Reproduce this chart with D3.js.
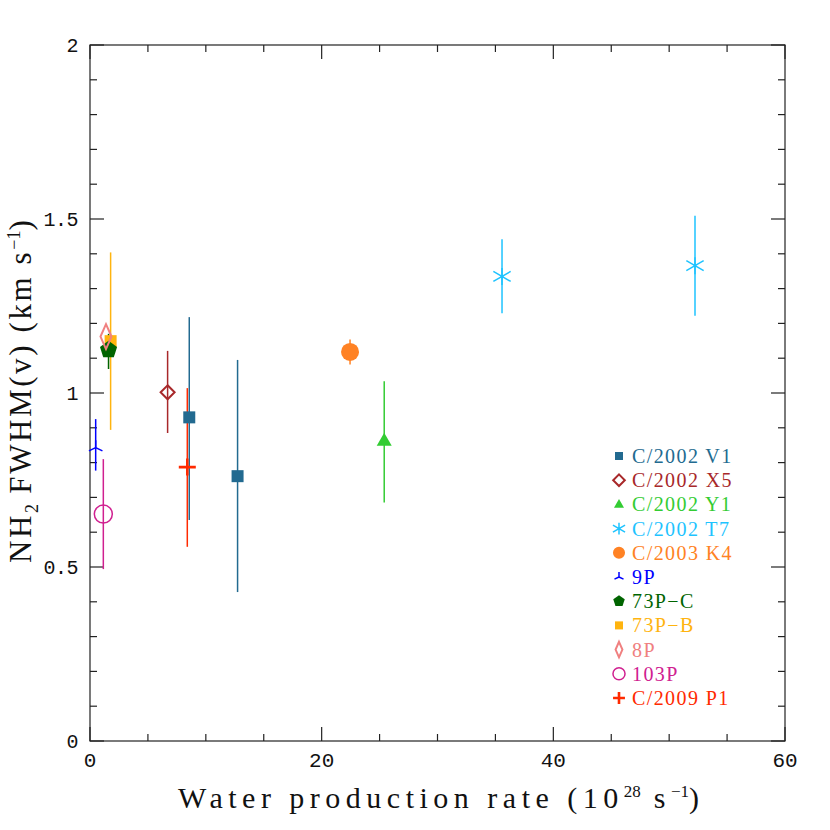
<!DOCTYPE html>
<html>
<head>
<meta charset="utf-8">
<script src="https://cdn.jsdelivr.net/npm/d3@7"></script>
<style>
  body { margin: 0; background: #fff; }
  svg { display: block; }
</style>
</head>
<body>
<svg width="830" height="830"></svg>
<script>
// one entry per measured point
const comet   = ["C/2002 V1", "C/2002 V1", "C/2002 X5", "C/2002 Y1", "C/2002 T7", "C/2002 T7",
                 "C/2003 K4", "9P", "73P-B", "73P-C", "8P", "103P", "C/2009 P1"];
const qH2O    = [8.57, 12.74, 6.7, 25.4, 35.57, 52.23, 22.45, 0.49, 1.78, 1.6, 1.38, 1.15, 8.4];
const fwhm    = [0.93, 0.761, 1.002, 0.863, 1.335, 1.366, 1.118, 0.843, 1.149, 1.124, 1.162, 0.652, 0.787];
const fwhmLo  = [0.635, 0.428, 0.885, 0.685, 1.229, 1.222, 1.082, 0.777, 0.894, 1.069, 1.162, 0.494, 0.558];
const fwhmHi  = [1.218, 1.095, 1.121, 1.034, 1.442, 1.509, 1.154, 0.925, 1.404, 1.17, 1.162, 0.81, 1.014];

// legend
const legendNames   = ["C/2002 V1", "C/2002 X5", "C/2002 Y1", "C/2002 T7", "C/2003 K4", "9P",
                       "73P-C", "73P-B", "8P", "103P", "C/2009 P1"];
const legendColors  = ["#226a90", "#a8282a", "#33cc33", "#1ec3ff", "#ff8224", "#0000ff",
                       "#006400", "#ffb40f", "#f08080", "#d02090", "#ff2a00"];
const legendSymbols = ["square", "diamond", "triangle", "asterisk", "circle", "tri",
                       "pentagon", "square", "tallDiamond", "ring", "plus"];

const xTicks = [0, 20, 40, 60];
const yTicks = [0, 0.5, 1, 1.5, 2];

const svg = d3.select("svg");
const mLeft = 90, mRight = 785, mTop = 45, mBottom = 741;

const x = d3.scaleLinear().domain([0, 60]).range([mLeft, mRight]);
const y = d3.scaleLinear().domain([0, 2]).range([mBottom, mTop]);

const colorOf = d3.scaleOrdinal().domain(legendNames).range(legendColors);
const symbolOf = d3.scaleOrdinal().domain(legendNames).range(legendSymbols);

// marker paths, s = scale
function marker(kind, s) {
	const p = d3.path();
	switch (kind) {
		case "square": p.rect(-6 * s, -6 * s, 12 * s, 12 * s); break;
		case "diamond": p.moveTo(0, -7 * s); p.lineTo(7 * s, 0); p.lineTo(0, 7 * s); p.lineTo(-7 * s, 0); p.closePath(); break;
		case "tallDiamond": p.moveTo(0, -12.5 * s); p.lineTo(5.5 * s, 0); p.lineTo(0, 12.5 * s); p.lineTo(-5.5 * s, 0); p.closePath(); break;
		case "triangle": p.moveTo(0, -8 * s); p.lineTo(7.5 * s, 5 * s); p.lineTo(-7.5 * s, 5 * s); p.closePath(); break;
		case "circle": case "ring": p.arc(0, 0, 9 * s, 0, 2 * Math.PI); break;
		case "pentagon":
			for (let i = 0; i < 5; i++) {
				const a = -Math.PI / 2 + i * 2 * Math.PI / 5;
				if (i === 0) p.moveTo(9 * s * Math.cos(a), 9 * s * Math.sin(a));
				else p.lineTo(9 * s * Math.cos(a), 9 * s * Math.sin(a));
			}
			p.closePath(); break;
		case "asterisk": {
			const r = 10 * s;
			p.moveTo(0, -8.5 * s); p.lineTo(0, 8.5 * s);
			const c = Math.cos(Math.PI / 6) * r, d = Math.sin(Math.PI / 6) * r;
			p.moveTo(-c, -d); p.lineTo(c, d);
			p.moveTo(-c, d); p.lineTo(c, -d);
			break;
		}
		case "tri": {
			const r = 7.5 * s, a = Math.PI / 7;
			p.moveTo(0, 0); p.lineTo(0, -r);
			p.moveTo(0, 0); p.lineTo(r * Math.cos(a), r * Math.sin(a));
			p.moveTo(0, 0); p.lineTo(-r * Math.cos(a), r * Math.sin(a));
			break;
		}
		case "plus": p.moveTo(-8.5 * s, 0); p.lineTo(8.5 * s, 0); p.moveTo(0, -8.5 * s); p.lineTo(0, 8.5 * s); break;
	}
	return p.toString();
}
const filled = k => ["square", "triangle", "circle", "pentagon"].includes(k);
function styleMarker(sel, kindFn, colFn) {
	sel.attr("fill", d => filled(kindFn(d)) ? colFn(d) : "none")
		.attr("stroke", d => filled(kindFn(d)) ? "none" : colFn(d))
		.attr("stroke-width", d => {
			const k = kindFn(d);
			return k === "plus" ? 2.6 : (k === "diamond" || k === "tallDiamond") ? 2 : 1.5;
		});
}

// frame and ticks
const frame = svg.append("g").attr("stroke", "#222").attr("stroke-width", 1.2);
frame.append("rect").attr("x", mLeft).attr("y", mTop).attr("width", mRight - mLeft).attr("height", mBottom - mTop).attr("fill", "none");

const xMinor = d3.range(0, 60.01, 5);
const yMinor = d3.range(0, 2.001, 0.1);
const isMajorX = v => Math.abs(v % 20) < 1e-6;
const isMajorY = v => Math.abs(Math.round(v * 2) - v * 2) < 1e-6;

xMinor.forEach(v => {
	const len = isMajorX(v) ? 14 : 7;
	frame.append("line").attr("x1", x(v)).attr("x2", x(v)).attr("y1", mBottom).attr("y2", mBottom - len);
	frame.append("line").attr("x1", x(v)).attr("x2", x(v)).attr("y1", mTop).attr("y2", mTop + len);
});
yMinor.forEach(v => {
	const len = isMajorY(v) ? 14 : 7;
	frame.append("line").attr("y1", y(v)).attr("y2", y(v)).attr("x1", mLeft).attr("x2", mLeft + len);
	frame.append("line").attr("y1", y(v)).attr("y2", y(v)).attr("x1", mRight).attr("x2", mRight - len);
});

// tick labels
svg.append("g").selectAll("text").data(xTicks).join("text")
	.attr("x", d => x(d)).attr("y", 767)
	.attr("text-anchor", "middle")
	.attr("font-family", "Liberation Mono").attr("font-size", 21)
	.attr("fill", "#111")
	.text(d => d);

svg.append("g").selectAll("text").data(yTicks).join("text")
	.attr("x", 78).attr("y", d => y(d) + 7)
	.attr("text-anchor", "end")
	.attr("font-family", "Liberation Mono").attr("font-size", 20)
	.attr("letter-spacing", -0.5)
	.attr("fill", "#111")
	.text(d => d);

// axis titles
const xt = svg.append("text")
	.attr("x", 178).attr("y", 808)
	.attr("font-family", "Liberation Serif").attr("font-size", 30)
	.attr("fill", "#111");
xt.append("tspan").attr("letter-spacing", 5.5).text("Water production rate (10");
xt.append("tspan").attr("dy", -11).attr("font-size", 17).text("28");
xt.append("tspan").attr("dy", 11).attr("letter-spacing", 5.5).text(" s");
xt.append("tspan").attr("dy", -11).attr("font-size", 17).text("\u22121");
xt.append("tspan").attr("dy", 11).text(")");

const yt = svg.append("text")
	.attr("transform", "translate(31,563) rotate(-90)")
	.attr("font-family", "Liberation Serif").attr("font-size", 31)
	.attr("fill", "#111");
yt.append("tspan").attr("letter-spacing", 2.6).text("NH");
yt.append("tspan").attr("dy", 7).attr("font-size", 18).text("2");
yt.append("tspan").attr("dy", -7).attr("letter-spacing", 2.6).text(" FWHM(v) (km s");
yt.append("tspan").attr("dy", -11).attr("font-size", 18).text("\u22121");
yt.append("tspan").attr("dy", 11).text(")");

// data
const points = comet.map((c, i) => ({ c, x: qH2O[i], y: fwhm[i], lo: fwhmLo[i], hi: fwhmHi[i] }));

svg.append("g").selectAll("line").data(points).join("line")
	.attr("x1", d => x(d.x)).attr("x2", d => x(d.x))
	.attr("y1", d => y(d.lo)).attr("y2", d => y(d.hi))
	.attr("stroke", d => colorOf(d.c)).attr("stroke-width", 1.5);

const marks = svg.append("g").selectAll("path").data(points).join("path")
	.attr("transform", d => `translate(${x(d.x)},${y(d.y)})`)
	.attr("d", d => marker(symbolOf(d.c), 1));
styleMarker(marks, d => symbolOf(d.c), d => colorOf(d.c));

// legend
const legScale = k => (k === "diamond" ? 0.83 : k === "tallDiamond" ? 0.62 : k === "asterisk" || k === "plus" ? 0.7 : 0.67);
const leg = svg.append("g").selectAll("g").data(legendNames).join("g")
	.attr("transform", (d, i) => `translate(619,${456 + i * 24.2})`);
const lm = leg.append("path").attr("d", (d, i) => marker(legendSymbols[i], legScale(legendSymbols[i])));
styleMarker(lm, d => symbolOf(d), d => colorOf(d));
leg.append("text")
	.attr("x", 13).attr("y", 7)
	.attr("font-family", "Liberation Serif").attr("font-size", 20)
	.attr("letter-spacing", 1.4)
	.attr("fill", d => colorOf(d))
	.text(d => d.replace("-", "\u2212"));
</script>
</body>
</html>
